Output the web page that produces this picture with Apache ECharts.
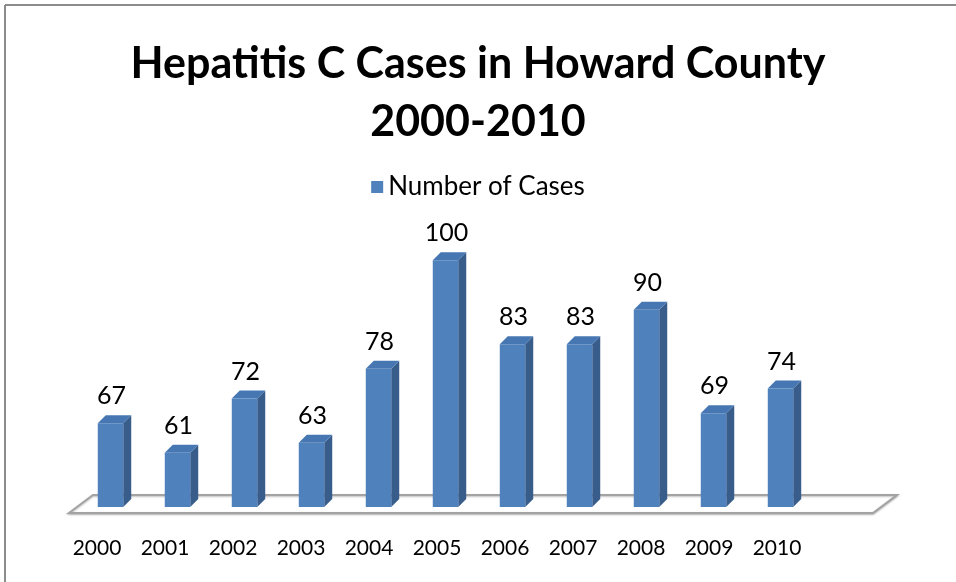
<!DOCTYPE html>
<html>
<head>
<meta charset="utf-8">
<script src="https://cdn.jsdelivr.net/npm/echarts@6/dist/echarts.min.js"></script>
<style>
  html, body { margin: 0; padding: 0; background: #ffffff; }
  #chart { width: 956px; height: 582px; }
</style>
</head>
<body>
<div id="chart"></div>
<script>
// Reported Hepatitis C cases per year
const years = ['2000', '2001', '2002', '2003', '2004', '2005', '2006', '2007', '2008', '2009', '2010'];
const cases = [67, 61, 72, 63, 78, 100, 83, 83, 90, 69, 74];
const seriesName = 'Number of Cases';
const titleText = 'Hepatitis C Cases in Howard County\n2000-2010';
const valueMin = 50;
const valueMax = 110;

const FONT = 'Lato, Carlito, "Liberation Sans", sans-serif';
const FRONT = '#4F81BD';
const TOP = '#4677B3';
const SIDE = '#385D8A';
const DEPTH_X = 8, DEPTH_Y = 8;

const chart = echarts.init(document.getElementById('chart'), null, { renderer: 'canvas' });

// Extruded column: front face, cap, darker right side, value label above
function renderBar(params, api) {
  const idx = api.value(0);
  const v = api.value(1);
  const top = api.coord([idx, v]);
  const base = api.coord([idx, valueMin]);
  const band = api.size([1, 0])[0];
  const w = band * 0.38;
  const xl = top[0] - w / 2, xr = top[0] + w / 2;
  const yt = top[1], yb = base[1];
  return {
    type: 'group',
    children: [
      { type: 'polygon',
        shape: { points: [[xr, yb], [xr, yt], [xr + DEPTH_X, yt - DEPTH_Y], [xr + DEPTH_X, yb - DEPTH_Y]] },
        style: { fill: SIDE } },
      { type: 'polygon',
        shape: { points: [[xl, yt], [xl + DEPTH_X, yt - DEPTH_Y], [xr + DEPTH_X, yt - DEPTH_Y], [xr, yt]] },
        style: { fill: TOP } },
      { type: 'rect',
        shape: { x: xl, y: yt, width: w, height: yb - yt },
        style: { fill: FRONT } },
      { type: 'text',
        style: { text: String(v), x: top[0] + 1, y: yt - 27, align: 'center', verticalAlign: 'middle',
                 font: '25px ' + FONT, fill: '#000000' } }
    ]
  };
}

// Floor plane under the columns, sized from the plotting area
function renderFloor(params, api) {
  if (params.dataIndex !== 0) return null;
  const cs = params.coordSys;
  const bottom = cs.y + cs.height;
  const left = cs.x, right = cs.x + cs.width;
  const pts = [
    [left - 8, bottom + 6],
    [left + 16, bottom - 12],
    [right + 83, bottom - 12],
    [right + 59, bottom + 6]
  ];
  return {
    type: 'polygon',
    shape: { points: pts },
    style: { fill: '#ffffff', stroke: '#a3a3a3', lineWidth: 2,
             shadowColor: 'rgba(0,0,0,0.25)', shadowBlur: 2, shadowOffsetY: 1 }
  };
}

const barData = years.map((y, i) => [y, cases[i]]);

const option = {
  backgroundColor: '#ffffff',
  animation: false,
  title: {
    text: titleText,
    left: 'center',
    top: 35,
    padding: [0, 0, 0, 10],
    textStyle: { fontFamily: FONT, fontWeight: 'bold', fontSize: 43, lineHeight: 58, color: '#000000' }
  },
  legend: {
    data: [seriesName],
    top: 174,
    left: 'center',
    padding: [0, 0, 0, 12],
    icon: 'rect',
    itemWidth: 12,
    itemHeight: 12,
    itemGap: 4,
    textStyle: { fontFamily: FONT, fontSize: 26, color: '#000000', lineHeight: 26, padding: [0, 0, 0, 0] }
  },
  grid: [
    { left: 77, width: 737, top: 211, bottom: 75 },
    { left: 63, width: 748, top: 211, bottom: 75 }
  ],
  xAxis: [
    { type: 'category', data: years, gridIndex: 0,
      axisLine: { show: false }, axisTick: { show: false }, axisLabel: { show: false } },
    { type: 'category', data: years, gridIndex: 1,
      axisLine: { show: false }, axisTick: { show: false },
      axisLabel: { margin: 31, fontFamily: FONT, fontSize: 21, color: '#000000' } }
  ],
  yAxis: [
    { type: 'value', min: valueMin, max: valueMax, gridIndex: 0, show: false, splitLine: { show: false } },
    { type: 'value', min: valueMin, max: valueMax, gridIndex: 1, show: false, splitLine: { show: false } }
  ],
  graphic: [
    { type: 'line', shape: { x1: 5, y1: 5, x2: 5, y2: 582 }, style: { stroke: '#8c8c8c', lineWidth: 2 }, z: 100 },
    { type: 'line', shape: { x1: 5, y1: 5, x2: 956, y2: 5 }, style: { stroke: '#8c8c8c', lineWidth: 2 }, z: 100 }
  ],
  series: [
    { type: 'custom', name: 'floor', xAxisIndex: 0, yAxisIndex: 0, z: 1,
      renderItem: renderFloor, data: [[years[0], valueMin]], silent: true },
    { type: 'custom', name: seriesName, xAxisIndex: 0, yAxisIndex: 0, z: 2,
      itemStyle: { color: FRONT },
      renderItem: renderBar, encode: { x: 0, y: 1 }, data: barData }
  ]
};

chart.setOption(option);
</script>
</body>
</html>
